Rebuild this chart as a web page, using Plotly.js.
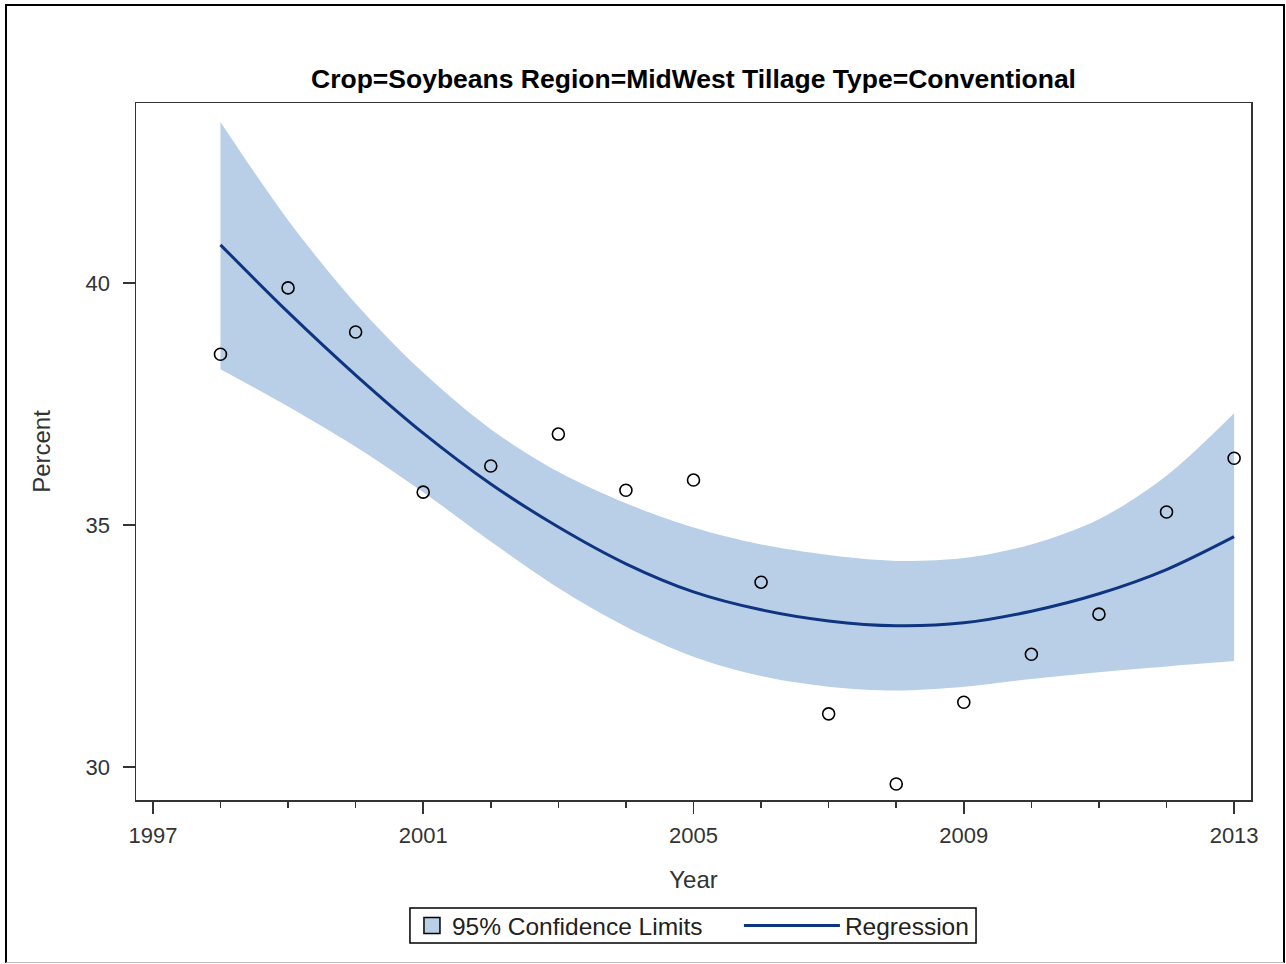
<!DOCTYPE html>
<html>
<head>
<meta charset="utf-8">
<script src="https://cdn.plot.ly/plotly-3.0.1.min.js"></script>
<style>
  html, body { margin: 0; padding: 0; background: #fff; }
  #chart { position: absolute; left: 0; top: 0; width: 1286px; height: 964px; }
  #frame { position: absolute; left: 5px; top: 4px; width: 1276px; height: 956px;
           border-left: 2px solid #000; border-top: 2px solid #000; border-right: 2px solid #000;
           border-bottom: 1px solid #bbb; pointer-events: none; }
</style>
</head>
<body>
<div id="chart"></div>
<div id="frame"></div>
<script>
// Observed data
const years = [1998, 1999, 2000, 2001, 2002, 2003, 2004, 2005, 2006, 2007, 2008, 2009, 2010, 2011, 2012, 2013];
const percent = [38.53, 39.90, 38.99, 35.68, 36.22, 36.88, 35.72, 35.93, 33.82, 31.10, 29.65, 31.34, 32.33, 33.16, 35.27, 36.38];
// Regression fit
const regression = [40.79, 39.40, 38.10, 36.90, 35.85, 34.96, 34.20, 33.62, 33.25, 33.02, 32.92, 32.98, 33.22, 33.58, 34.08, 34.76];
// 95% confidence limits
const upperCL = [43.33, 41.30, 39.58, 38.15, 36.98, 36.10, 35.45, 34.95, 34.60, 34.38, 34.26, 34.32, 34.60, 35.12, 36.02, 37.31];
const lowerCL = [38.22, 37.45, 36.62, 35.68, 34.66, 33.70, 32.90, 32.28, 31.88, 31.66, 31.58, 31.66, 31.82, 31.96, 32.08, 32.19];

const xTicks = [1997, 2001, 2005, 2009, 2013];
const yTicks = [30, 35, 40];

const bandColor = '#B9CFE7';
const lineColor = '#0F3580';
const axisColor = '#333333';
const fontFam = '"Liberation Sans", Arial, sans-serif';

const traces = [
  {
    x: years, y: lowerCL, type: 'scatter', mode: 'lines',
    line: { width: 0, shape: 'spline', smoothing: 0.9 },
    showlegend: false, hoverinfo: 'skip'
  },
  {
    x: years, y: upperCL, type: 'scatter', mode: 'lines',
    line: { width: 0, shape: 'spline', smoothing: 0.9 },
    fill: 'tonexty', fillcolor: bandColor,
    name: '95% Confidence Limits', showlegend: false
  },
  {
    // legend-only entry for the band (square swatch)
    x: [null], y: [null], type: 'scatter', mode: 'markers',
    marker: { symbol: 'square', size: 18, color: bandColor, line: { width: 1.5, color: '#000' } },
    name: '95% Confidence Limits', showlegend: true, legend: 'legend'
  },
  {
    x: years, y: regression, type: 'scatter', mode: 'lines',
    line: { color: lineColor, width: 3, shape: 'spline', smoothing: 0.9 },
    name: 'Regression', showlegend: true, legend: 'legend2'
  },
  {
    x: years, y: percent, type: 'scatter', mode: 'markers',
    marker: { symbol: 'circle-open', size: 12, color: '#000', line: { width: 1.6, color: '#000' } },
    showlegend: false, name: 'Percent'
  }
];

const legendFont = { family: fontFam, size: 24.5, color: '#222' };

const layout = {
  width: 1286, height: 964,
  margin: { l: 136, r: 35, t: 103, b: 164 },
  paper_bgcolor: '#fff', plot_bgcolor: '#fff',
  font: { family: fontFam, color: axisColor, size: 22 },
  title: {
    text: '<b>Crop=Soybeans Region=MidWest Tillage Type=Conventional</b>',
    font: { family: fontFam, size: 26.5, color: '#000' },
    x: 0.5, xref: 'paper', xanchor: 'center',
    y: 0.918, yref: 'container', yanchor: 'middle'
  },
  xaxis: {
    range: [1996.75, 2013.25],
    tickmode: 'array', tickvals: xTicks, ticktext: xTicks.map(String),
    ticks: 'outside', ticklen: 12, tickwidth: 1.5, tickcolor: axisColor,
    ticklabelstandoff: 3,
    minor: { dtick: 1, tick0: 1997, ticks: 'outside', ticklen: 6, tickwidth: 1.5, tickcolor: axisColor, showgrid: false },
    showgrid: false, zeroline: false,
    showline: true, linecolor: axisColor, linewidth: 1.5, mirror: true,
    tickfont: { size: 22, color: axisColor },
    title: { text: 'Year', font: { size: 24, color: axisColor }, standoff: 24 }
  },
  yaxis: {
    range: [29.32, 43.72],
    tickmode: 'array', tickvals: yTicks, ticktext: yTicks.map(String),
    ticks: 'outside', ticklen: 12, tickwidth: 1.5, tickcolor: axisColor,
    ticklabelstandoff: 8,
    showgrid: false, zeroline: false,
    showline: true, linecolor: axisColor, linewidth: 1.5, mirror: true,
    tickfont: { size: 22, color: axisColor },
    title: { text: 'Percent', font: { size: 24, color: axisColor }, standoff: 28 }
  },
  legend: {
    orientation: 'h', x: 0.2475, xanchor: 'left', y: -0.18, yanchor: 'middle',
    borderwidth: 0, bgcolor: 'rgba(0,0,0,0)',
    font: legendFont, itemwidth: 30
  },
  legend2: {
    orientation: 'h', x: 0.7515, xanchor: 'right', y: -0.18, yanchor: 'middle',
    borderwidth: 0, bgcolor: 'rgba(0,0,0,0)',
    font: legendFont, itemwidth: 96
  },
  shapes: [
    {
      type: 'rect', xref: 'paper', yref: 'paper',
      x0: 0.2457, x1: 0.7534, y0: -0.2052, y1: -0.1549,
      line: { color: '#000', width: 1.5 }, fillcolor: 'rgba(0,0,0,0)', layer: 'above'
    }
  ],
  showlegend: true
};

Plotly.newPlot('chart', traces, layout, { staticPlot: true, displayModeBar: false });
</script>
</body>
</html>
